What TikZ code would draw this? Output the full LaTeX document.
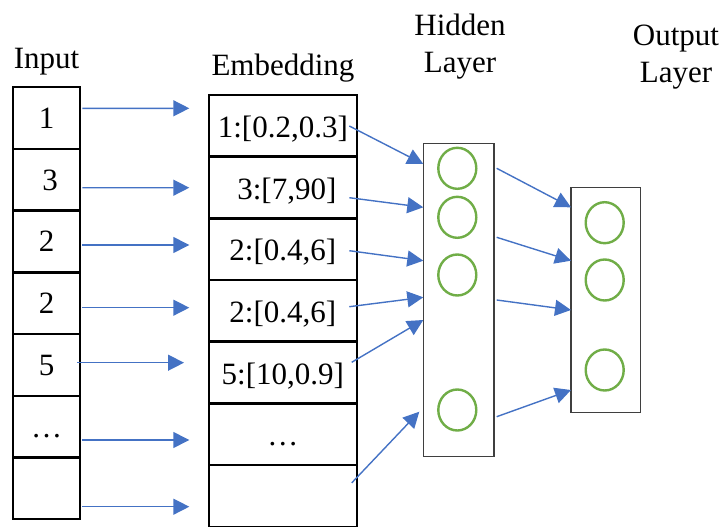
\documentclass[tikz,border=0pt]{standalone}
\usepackage{fontspec}
\setmainfont{Liberation Serif}
\usetikzlibrary{arrows.meta,calc,shapes.geometric}
\definecolor{linkblue}{HTML}{4472C4}
\definecolor{unitgreen}{HTML}{70AD47}
\definecolor{framegray}{HTML}{3F3F3F}
\begin{document}
\begin{tikzpicture}[x=1pt,y=-1pt,
  every node/.style={font=\fontsize{31}{37}\selectfont, inner sep=0pt, outer sep=0pt},
  cellin/.style={draw=black, line width=2.4pt, minimum width=67pt, minimum height=61.76pt,
                 text height=21pt, text depth=0pt},
  cellem/.style={draw=black, line width=2.4pt, minimum width=147.7pt, minimum height=61.67pt,
                 text height=23pt, text depth=0pt},
  layerbox/.style={draw=framegray, line width=1.3pt, rectangle},
  unit/.style={ellipse, draw=unitgreen, line width=2.4pt, minimum width=38pt, minimum height=41pt},
  arr/.style={draw=linkblue, line width=1.4pt, -{Triangle[length=16pt,width=16pt]}},
  title/.style={align=center}
]
\useasboundingbox (0,0) rectangle (725,527);

% column titles
\node[anchor=base] (tin) at (46.5,68) {Input};
\node[anchor=base] (tem) at (283,75) {Embedding};
\node[title, anchor=north] (thid) at (460,14) {Hidden\\Layer};
\node[title, anchor=north] (tout) at (676,25) {Output\\Layer};

% input ids
\node[cellin] (in1) at (46.5,117.9) {1};
\node[cellin] (in2) at (46.5,179.6) {\hspace*{7pt}3};
\node[cellin] (in3) at (46.5,241.4) {2};
\node[cellin] (in4) at (46.5,303.2) {2};
\node[cellin] (in5) at (46.5,364.9) {5};
\node[cellin] (in6) at (46.5,426.7) {…};
\node[cellin] (in7) at (46.5,488.4) {};

% embedding lookup table
\node[cellem] (em1) at (282.85,125.8) {1:[0.2,0.3]};
\node[cellem] (em2) at (282.85,187.5) {\hspace*{8pt}3:[7,90]};
\node[cellem] (em3) at (282.85,249.2) {2:[0.4,6]};
\node[cellem] (em4) at (282.85,310.9) {2:[0.4,6]};
\node[cellem] (em5) at (282.85,372.5) {5:[10,0.9]};
\node[cellem] (em6) at (282.85,434.2) {…};
\node[cellem] (em7) at (282.85,495.9) {};

% hidden layer
\node[layerbox, minimum width=70.7pt, minimum height=313.4pt] (hid) at (458.65,300) {};
\node[unit] (h1) at (457.3,168.3) {};
\node[unit] (h2) at (457.3,217.3) {};
\node[unit] (h3) at (457.3,275) {};
\node[unit] (h4) at (457.3,410) {};

% output layer
\node[layerbox, minimum width=69.7pt, minimum height=224.6pt] (out) at (605.85,300) {};
\node[unit] (o1) at (604.7,222.7) {};
\node[unit] (o2) at (604.7,280) {};
\node[unit] (o3) at (604.7,370) {};

% id -> embedding row
\foreach \k/\a/\b/\s/\t in {1/-9.6/-17.5/2.3/-19.7, 2/8.1/0.2/2.3/-19.7,
                            3/3.6/-4.2/2.3/-19.7, 4/4.5/-3.2/2.3/-19.7,
                            5/-2.2/-9.8/-2.7/-25, 6/13.3/5.8/2.3/-19.7,
                            7/18.3/10.8/2.3/-19.7}
  \draw[arr] ($(in\k.east)+(\s,\a)$) -- ($(em\k.west)+(\t,\b)$);

% embedding -> hidden layer
\draw[arr] ($(em1.east)+(-7.4,0.2)$)   -- ($(hid.west)+(0,-136)$);
\draw[arr] ($(em2.east)+(-7.4,10.2)$)  -- ($(hid.west)+(0,-92.7)$);
\draw[arr] ($(em3.east)+(-7.4,1.5)$)   -- ($(hid.west)+(0,-39.3)$);
\draw[arr] ($(em4.east)+(-7.4,-4.2)$)  -- ($(hid.west)+(0,-2.7)$);
\draw[arr] ($(em5.east)+(-5,-10.2)$)   -- ($(hid.west)+(0,20)$);
\draw[arr] ($(em7.east)+(-5,-13)$)     -- ($(hid.west)+(-4,111.7)$);

% hidden layer -> output layer
\draw[arr] ($(hid.east)+(2.7,-131.7)$) -- ($(out.west)+(0,-92.7)$);
\draw[arr] ($(hid.east)+(2.7,-62.7)$)  -- ($(out.west)+(0,-39.3)$);
\draw[arr] ($(hid.east)+(2.7,0)$)      -- ($(out.west)+(0,10)$);
\draw[arr] ($(hid.east)+(2.7,116.7)$)  -- ($(out.west)+(0,90)$);
\end{tikzpicture}
\end{document}
